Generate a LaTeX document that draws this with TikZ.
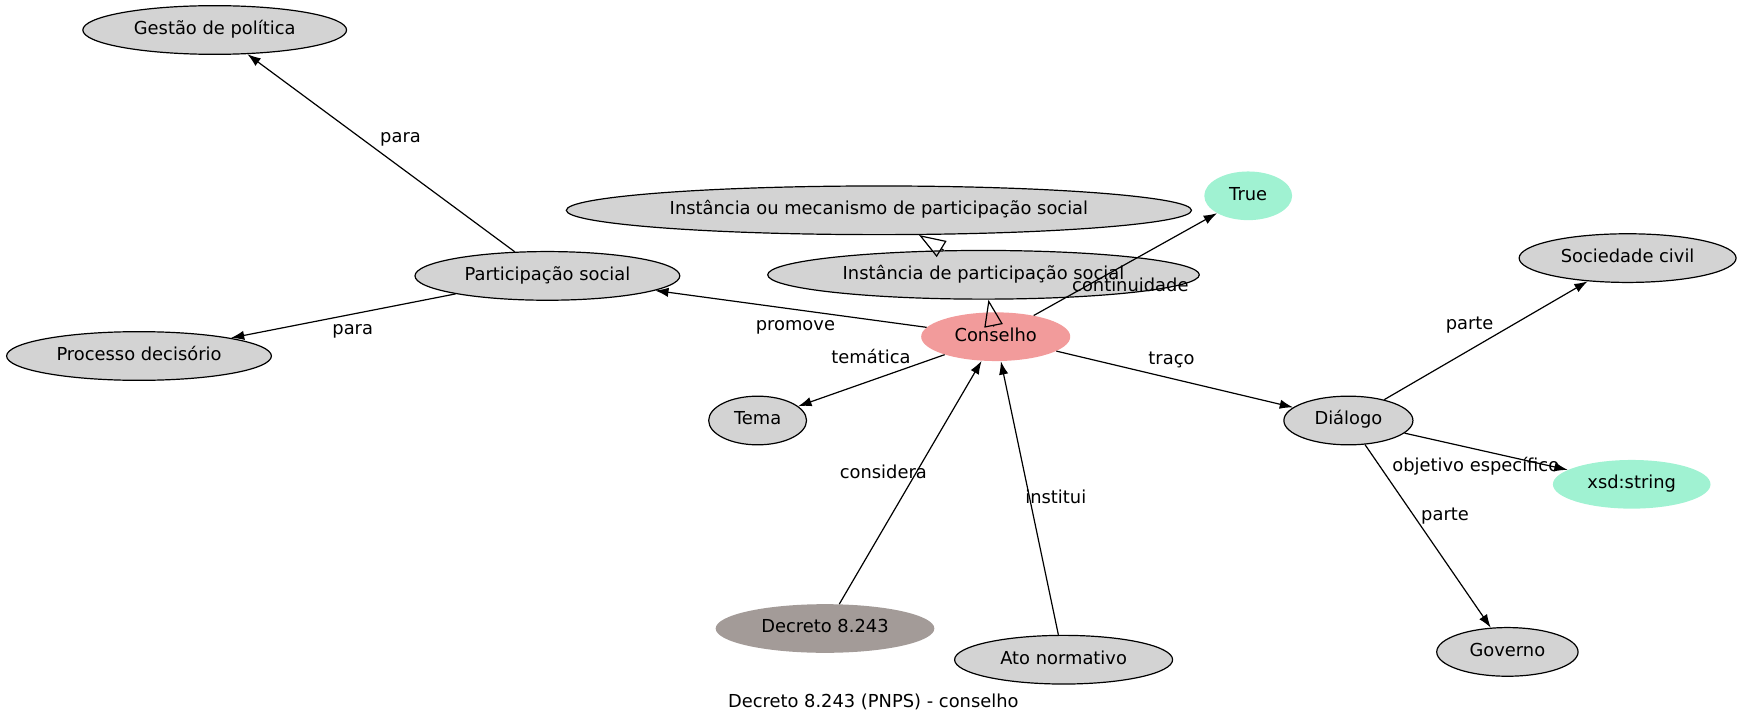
\documentclass[tikz,border=0pt]{standalone}
\usepackage{fontspec}
\setmainfont{DejaVu Sans}
\usetikzlibrary{shapes.geometric,arrows.meta}
\definecolor{classgray}{HTML}{D3D3D3}
\definecolor{focuspink}{HTML}{F29B9B}
\definecolor{literalgreen}{HTML}{A0F2D2}
\definecolor{sourcegray}{HTML}{A39B98}
\begin{document}
\begin{tikzpicture}[x=0.75pt,y=-0.75pt]
      \tikzstyle{every node}=[font=\fontsize{13.4pt}{16pt}\selectfont,text height=9.6pt,text depth=2.9pt,inner sep=0pt]
      \tikzstyle{cls}=[ellipse,draw,line width=0.9pt,fill=classgray,minimum height=36.5pt]
      \tikzstyle{lit}=[ellipse,fill=literalgreen,minimum height=36.5pt]
      \tikzstyle{lbl}=[]
      \tikzstyle{rel}=[line width=0.9pt,-{Latex[length=10pt,width=7pt]}]
      \tikzstyle{subcls}=[line width=0.9pt,-{Triangle[open,length=20pt,width=14pt]}]
      \useasboundingbox (0,0) rectangle (1744,727);

      \node[cls,minimum width=197.8pt] (gestao) at (214.7,30) {Gestão de política};
      \node[cls,minimum width=198.6pt] (partsoc) at (547.4,275.9) {Participação social};
      \node[cls,minimum width=198.6pt] (processo) at (139,356) {Processo decisório};
      \node[cls,minimum width=468.9pt] (mecanismo) at (878.9,210.3) {Instância ou mecanismo de participação social};
      \node[cls,minimum width=323.7pt] (instancia) at (983.5,274.8) {Instância de participação social};
      \node[lit,minimum width=65.9pt] (true) at (1248.2,195.8) {True};
      \node[ellipse,fill=focuspink,minimum height=36.5pt,minimum width=111.8pt] (conselho) at (995.7,336.7) {Conselho};
      \node[cls,minimum width=73.4pt] (tema) at (757.6,420.5) {Tema};
      \node[cls,minimum width=96.8pt] (dialogo) at (1348.4,420.5) {Diálogo};
      \node[cls,minimum width=162.7pt] (sociedade) at (1627.6,258.1) {Sociedade civil};
      \node[lit,minimum width=118.2pt] (xsd) at (1631.7,484.3) {xsd:string};
      \node[ellipse,fill=sourcegray,minimum height=36.5pt,minimum width=164pt] (decreto) at (825,628.5) {Decreto 8.243};
      \node[cls,minimum width=163.5pt] (ato) at (1063.6,659.7) {Ato normativo};
      \node[cls,minimum width=106pt] (governo) at (1507.4,651.9) {Governo};

      \draw[rel] (partsoc) -- (gestao) node[lbl] (l-para1) at (400.5,138) {para};
      \draw[rel] (partsoc) -- (processo) node[lbl] (l-para2) at (352.7,330.4) {para};
      \draw[rel] (conselho) -- (partsoc) node[lbl] (l-promove) at (795.4,326) {promove};
      \draw[rel] (conselho) -- (tema) node[lbl] (l-tematica) at (871,359.3) {temática};
      \draw[rel] (conselho) -- (dialogo) node[lbl] (l-traco) at (1171.5,360.5) {traço};
      \draw[rel] (conselho) -- (true) node[lbl] (l-continuidade) at (1130.3,287) {continuidade};
      \draw[subcls,shorten <=11pt] (conselho) -- (instancia);
      \draw[subcls] (instancia) -- (mecanismo);
      \draw[rel] (decreto) -- (conselho) node[lbl] (l-considera) at (883.3,474) {considera};
      \draw[rel] (ato) -- (conselho) node[lbl] (l-institui) at (1055.8,499.5) {institui};
      \draw[rel] (dialogo) -- (sociedade) node[lbl] (l-parte1) at (1469.6,324.9) {parte};
      \draw[rel] (dialogo) -- (xsd) node[lbl] (l-objetivo) at (1475.8,466.7) {objetivo específico};
      \draw[rel] (dialogo) -- (governo) node[lbl] (l-parte2) at (1445,516) {parte};

      \node (caption) at (873.3,703) {Decreto 8.243 (PNPS) - conselho};
    \end{tikzpicture}
\end{document}
